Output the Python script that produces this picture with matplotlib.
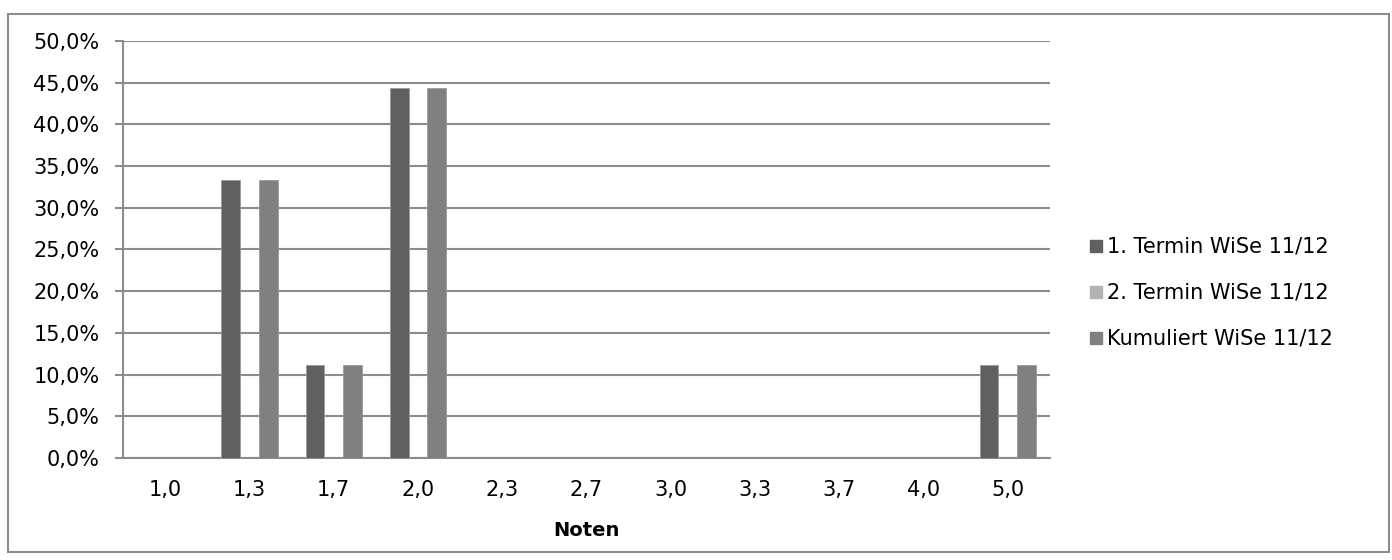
import matplotlib.pyplot as plt
import numpy as np
from matplotlib.patches import Rectangle
from matplotlib.ticker import FuncFormatter

plt.rcParams['font.family'] = ['DejaVu Sans']

noten = ["1,0", "1,3", "1,7", "2,0", "2,3", "2,7", "3,0", "3,3", "3,7", "4,0", "5,0"]
termin1 = [0, 33.3, 11.1, 44.4, 0, 0, 0, 0, 0, 0, 11.1]
termin2 = [0, 0, 0, 0, 0, 0, 0, 0, 0, 0, 0]
kumuliert = [0, 33.3, 11.1, 44.4, 0, 0, 0, 0, 0, 0, 11.1]
series_names = ["1. Termin WiSe 11/12", "2. Termin WiSe 11/12", "Kumuliert WiSe 11/12"]
colors = ["#606060", "#b3b3b3", "#808080"]

fig = plt.figure(figsize=(13.92, 5.6), dpi=100)
ax = fig.add_axes([0.0884, 0.182, 0.6659, 0.745])

x = np.arange(len(noten))
w = 0.222
for i, (vals, name, c) in enumerate(zip([termin1, termin2, kumuliert], series_names, colors)):
    ax.bar(x + (i - 1) * w, vals, width=w, color=c, edgecolor="#9a9a9a", linewidth=0.6,
           label=name, zorder=3)

ax.set_xlim(-0.5, len(noten) - 0.5)
ax.set_ylim(0, 50)
ax.set_yticks(np.arange(0, 51, 5))
ax.yaxis.set_major_formatter(FuncFormatter(lambda v, p: f"{v:.1f}%".replace(".", ",")))
ax.set_xticks(x)
ax.set_xticklabels(noten)
ax.grid(axis="y", color="#8c8c8c", linewidth=1.5, zorder=0)
for s in ["top", "right"]:
    ax.spines[s].set_visible(False)
ax.spines["bottom"].set_color("#8c8c8c")
ax.spines["bottom"].set_linewidth(1.5)
ax.spines["left"].set_color("#8c8c8c")
ax.spines["left"].set_linewidth(1.5)
ax.tick_params(axis="y", length=6, width=1.5, color="#8c8c8c", labelsize=15, pad=11)
ax.tick_params(axis="x", length=0, labelsize=15, pad=16)
ax.set_xlabel("Noten", fontsize=14, fontweight="bold", labelpad=15)

handles = [plt.Line2D([], [], marker="s", linestyle="none", markersize=8, color=c) for c in colors]
fig.legend(handles, series_names, loc="center left", bbox_to_anchor=(0.767, 0.477),
           frameon=False, fontsize=15, handletextpad=0.1, labelspacing=1.25, handlelength=0.9)

fig.patches.append(Rectangle((0.006, 0.014), 0.992, 0.961, transform=fig.transFigure,
                             fill=False, edgecolor="#8c8c8c", linewidth=1.5))

plt.savefig("out.png", dpi=100)
plt.close()
